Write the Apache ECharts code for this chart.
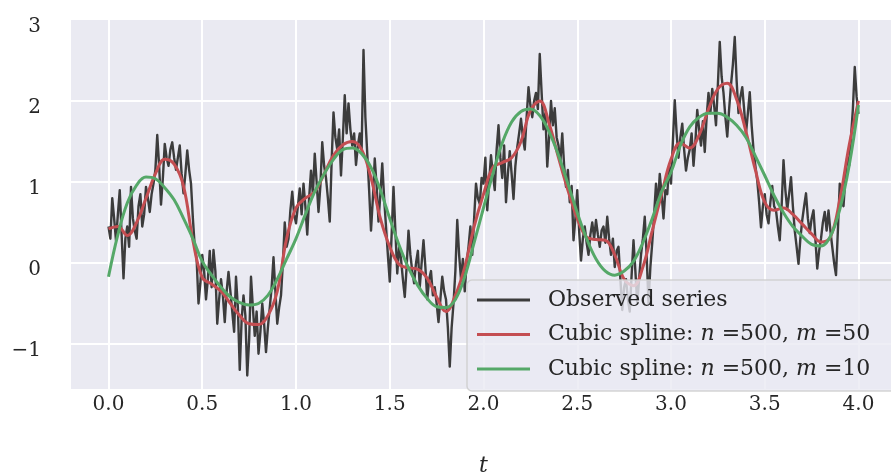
<!DOCTYPE html>
<html>
<head>
<meta charset="utf-8">
<script src="https://cdn.jsdelivr.net/npm/echarts@6/dist/echarts.min.js"></script>
<style>
  html, body { margin: 0; padding: 0; background: #ffffff; }
  #chart { width: 891px; height: 473px; }
</style>
</head>
<body>
<div id="chart"></div>
<script>
// Observed series, sampled every 0.01 on t in [0, 4]
const obsStep = 0.01;
const observed = [
  0.45, 0.30, 0.80, 0.55, 0.28, 0.60, 0.90, 0.35, -0.19, 0.30,
  0.45, 0.20, 0.94, 0.55, 0.40, 0.30, 0.70, 0.85, 0.45, 0.60,
  0.94, 0.80, 0.63, 0.85, 0.98, 1.15, 1.58, 1.20, 0.72, 1.05,
  1.47, 1.30, 1.20, 1.40, 1.49, 1.30, 1.15, 1.30, 1.45, 1.10,
  0.86, 1.10, 1.39, 1.15, 0.98, 0.55, 0.20, 0.05, -0.50, -0.25,
  0.10, -0.10, -0.45, -0.20, 0.15, -0.30, 0.16, -0.10, -0.75, -0.45,
  -0.20, -0.40, -0.73, -0.35, -0.11, -0.35, -0.60, -0.85, -0.17, -0.55,
  -1.32, -0.70, -0.40, -0.65, -1.39, -0.95, -0.17, -0.55, -0.90, -0.60,
  -1.12, -0.85, -0.50, -0.75, -1.10, -0.80, -0.55, -0.30, 0.07, -0.35,
  -0.75, -0.55, -0.40, 0.00, 0.50, 0.20, 0.30, 0.65, 0.88, 0.60,
  0.49, 0.70, 0.92, 0.60, 0.98, 0.70, 0.35, 0.80, 1.14, 0.85,
  1.35, 1.00, 0.63, 0.95, 1.49, 1.20, 1.05, 0.80, 0.51, 1.25,
  1.86, 1.55, 1.40, 1.65, 1.08, 1.55, 2.07, 1.60, 1.97, 1.65,
  1.45, 1.60, 1.21, 1.45, 1.60, 1.40, 2.63, 1.80, 1.35, 0.90,
  0.40, 0.80, 1.29, 0.95, 0.51, 0.85, 1.23, 0.80, 0.45, 0.10,
  -0.23, 0.35, 0.94, 0.40, -0.13, 0.20, 0.05, -0.20, -0.42, -0.05,
  0.40, 0.10, -0.10, -0.25, 0.00, 0.15, -0.30, 0.00, 0.28, -0.05,
  -0.45, -0.20, -0.10, -0.40, -0.30, -0.50, -0.73, -0.45, -0.17, -0.35,
  -0.45, -0.80, -1.28, -0.80, -0.50, -0.10, 0.53, 0.10, -0.20, 0.05,
  -0.35, 0.00, 0.20, 0.45, 0.10, 0.55, 0.98, 0.80, 0.73, 1.05,
  0.98, 1.30, 0.65, 1.00, 1.33, 1.10, 0.90, 1.40, 1.70, 1.30,
  1.05, 1.45, 0.75, 1.10, 1.38, 1.10, 0.79, 1.20, 1.43, 1.60,
  1.78, 1.55, 1.40, 1.80, 2.17, 1.95, 1.80, 2.00, 2.10, 1.90,
  2.58, 2.10, 1.65, 1.85, 1.19, 1.55, 2.00, 1.70, 1.91, 1.55,
  1.45, 1.25, 1.60, 1.20, 0.94, 1.15, 0.75, 0.95, 0.28, 0.55,
  0.90, 0.40, 0.03, 0.30, 0.45, 0.25, 0.10, 0.35, 0.50, 0.30,
  0.53, 0.35, 0.20, 0.40, 0.45, 0.25, 0.57, 0.30, 0.10, 0.30,
  -0.05, 0.15, 0.20, -0.20, -0.58, -0.30, -0.20, -0.45, -0.60, -0.15,
  0.28, -0.10, -0.50, -0.20, 0.10, 0.30, 0.57, 0.10, -0.50, -0.05,
  0.25, 0.60, 0.98, 0.70, 1.10, 0.85, 0.55, 0.90, 0.85, 1.20,
  0.98, 1.50, 2.01, 1.60, 1.30, 1.55, 1.72, 1.40, 1.14, 1.30,
  1.40, 1.60, 1.20, 1.50, 1.89, 1.65, 1.45, 1.75, 1.37, 1.80,
  2.10, 1.85, 2.15, 1.95, 1.70, 2.20, 2.73, 2.30, 2.10, 1.80,
  1.56, 1.90, 2.20, 2.45, 2.79, 2.25, 1.85, 2.05, 2.17, 1.90,
  1.60, 1.85, 2.11, 1.70, 1.40, 1.20, 1.02, 0.75, 0.44, 0.70,
  0.85, 0.60, 0.49, 0.75, 0.95, 0.70, 0.65, 0.45, 0.28, 0.70,
  1.27, 0.90, 0.66, 0.85, 1.06, 0.70, 0.40, 0.20, -0.01, 0.30,
  0.53, 0.70, 0.86, 0.55, 0.37, 0.55, 0.65, 0.30, -0.07, 0.15,
  0.30, 0.50, 0.63, 0.40, 0.65, 0.40, 0.20, 0.00, -0.15, 0.40,
  0.98, 0.75, 0.70, 1.05, 1.31, 1.20, 1.55, 1.90, 2.42, 2.05,
  1.84
];

// Fitted cubic splines, sampled every 0.05 on t in [0, 4]
const splineStep = 0.05;
const splineM50 = [
  0.42, 0.45, 0.34, 0.50, 0.80, 1.10, 1.28, 1.22, 0.95, 0.28,
  -0.18, -0.26, -0.35, -0.50, -0.65, -0.75, -0.76, -0.65, -0.35, 0.30,
  0.68, 0.80, 0.88, 1.10, 1.33, 1.46, 1.50, 1.40, 1.05, 0.55,
  0.20, -0.02, -0.06, -0.08, -0.19, -0.42, -0.60, -0.40, -0.05, 0.45,
  0.85, 1.18, 1.24, 1.30, 1.50, 1.88, 2.00, 1.72, 1.30, 0.90,
  0.55, 0.32, 0.29, 0.28, 0.10, -0.20, -0.28, -0.05, 0.40, 0.85,
  1.28, 1.48, 1.42, 1.58, 1.90, 2.15, 2.22, 2.02, 1.62, 1.15,
  0.75, 0.65, 0.68, 0.60, 0.48, 0.36, 0.26, 0.32, 0.78, 1.45,
  2.00
];
const splineM10 = [
  -0.17, 0.35, 0.74, 0.96, 1.06, 1.04, 0.93, 0.78, 0.55, 0.30,
  0.02, -0.15, -0.30, -0.42, -0.49, -0.52, -0.50, -0.40, -0.20, 0.05,
  0.30, 0.60, 0.88, 1.10, 1.28, 1.40, 1.42, 1.35, 1.18, 0.90,
  0.55, 0.22, -0.06, -0.28, -0.44, -0.54, -0.55, -0.45, -0.17, 0.25,
  0.68, 1.10, 1.48, 1.74, 1.87, 1.90, 1.82, 1.62, 1.33, 0.98,
  0.62, 0.30, 0.05, -0.10, -0.15, -0.10, 0.02, 0.25, 0.55, 0.88,
  1.12, 1.45, 1.68, 1.80, 1.85, 1.85, 1.80, 1.70, 1.55, 1.32,
  1.08, 0.83, 0.62, 0.45, 0.33, 0.23, 0.21, 0.33, 0.66, 1.20,
  1.95
];

const xTicks = [0, 0.5, 1, 1.5, 2, 2.5, 3, 3.5, 4];
const yGridTicks = [-1, 0, 1, 2];
const yLabelTicks = [-1, 0, 1, 2, 3];
const seriesNames = [
  'Observed series',
  'Cubic spline: n =500, m =50',
  'Cubic spline: n =500, m =10'
];
const seriesColors = ['#3c3c3c', '#c44e52', '#55a868'];

function toPairs(values, step) {
  return values.map((v, i) => [Number((i * step).toFixed(2)), v]);
}

const textColor = '#262626';
const serif = '"DejaVu Serif", serif';

const chart = echarts.init(document.getElementById('chart'), null, { renderer: 'canvas' });

chart.setOption({
  animation: false,
  backgroundColor: '#ffffff',
  grid: {
    left: 71,
    right: -5,
    top: 20,
    bottom: 84,
    show: true,
    backgroundColor: '#eaeaf2',
    borderWidth: 0,
    containLabel: false,
    outerBoundsMode: 'none'
  },
  xAxis: {
    type: 'value',
    min: -0.2,
    max: 4.2,
    axisLine: { show: false },
    axisTick: { show: false, customValues: xTicks },
    axisLabel: {
      customValues: xTicks,
      margin: 6,
      fontFamily: serif,
      fontSize: 20,
      color: textColor,
      formatter: v => v.toFixed(1)
    },
    splitLine: { show: true, lineStyle: { color: '#ffffff', width: 2 } },
    name: 't',
    nameLocation: 'middle',
    nameGap: 66,
    nameTextStyle: {
      fontFamily: serif,
      fontStyle: 'italic',
      fontSize: 22,
      color: textColor
    }
  },
  yAxis: {
    type: 'value',
    min: -1.556,
    max: 3,
    axisLine: { show: false },
    axisTick: { show: false, customValues: yGridTicks },
    axisLabel: {
      customValues: yLabelTicks,
      margin: 30,
      fontFamily: serif,
      fontSize: 20,
      color: textColor,
      verticalAlign: 'top',
      lineHeight: 14,
      formatter: v => String(v).replace('-', '\u2212')
    },
    splitLine: { show: true, lineStyle: { color: '#ffffff', width: 2 } }
  },
  // Translucent legend frame; it runs past the right edge of the canvas
  graphic: [{
    type: 'rect',
    z: 10,
    silent: true,
    shape: { x: 467, y: 280, width: 460, height: 111, r: 5 },
    style: {
      fill: 'rgba(234,234,242,0.8)',
      stroke: 'rgba(204,204,204,0.85)',
      lineWidth: 1.5
    }
  }],
  legend: {
    data: seriesNames.map(name => ({ name: name, icon: 'rect' })),
    orient: 'vertical',
    left: 467,
    top: 280,
    z: 11,
    padding: [8, 10, 10, 10],
    itemWidth: 53,
    itemHeight: 3,
    itemGap: 10.5,
    selectedMode: false,
    backgroundColor: 'transparent',
    borderWidth: 0,
    formatter: name => name.replace(/\b([nm]) =/g, '{it|$1} ='),
    textStyle: {
      fontFamily: serif,
      fontSize: 22,
      lineHeight: 24,
      color: textColor,
      padding: [0, 0, 0, 13],
      rich: {
        it: {
          fontFamily: serif,
          fontStyle: 'italic',
          fontSize: 22,
          lineHeight: 24,
          color: textColor
        }
      }
    }
  },
  series: [
    {
      name: seriesNames[0],
      type: 'line',
      data: toPairs(observed, obsStep),
      symbol: 'none',
      showSymbol: false,
      lineStyle: { color: seriesColors[0], width: 2.4, join: 'round' },
      itemStyle: { color: seriesColors[0] },
      z: 2
    },
    {
      name: seriesNames[1],
      type: 'line',
      data: toPairs(splineM50, splineStep),
      symbol: 'none',
      showSymbol: false,
      smooth: 0.4,
      lineStyle: { color: seriesColors[1], width: 3 },
      itemStyle: { color: seriesColors[1] },
      z: 3
    },
    {
      name: seriesNames[2],
      type: 'line',
      data: toPairs(splineM10, splineStep),
      symbol: 'none',
      showSymbol: false,
      smooth: 0.4,
      lineStyle: { color: seriesColors[2], width: 3 },
      itemStyle: { color: seriesColors[2] },
      z: 4
    }
  ]
});
</script>
</body>
</html>
